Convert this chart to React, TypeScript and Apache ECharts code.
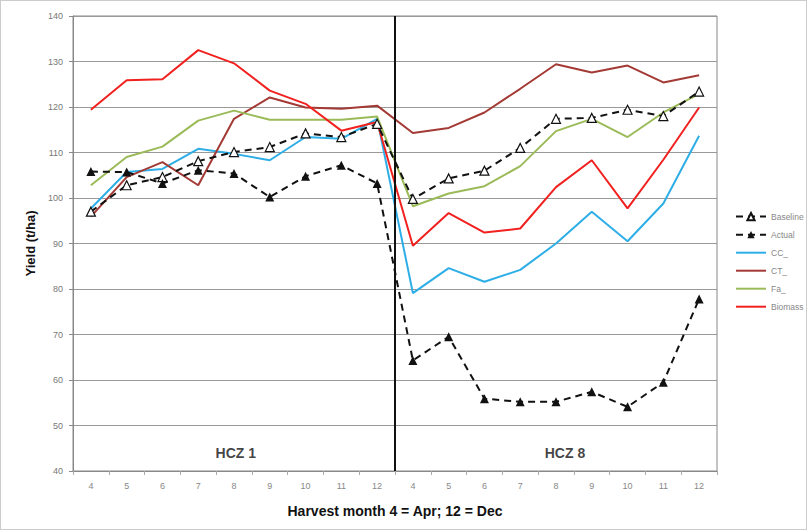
import React, { useEffect, useRef } from "react";
import * as echarts from "echarts";

const months = ["4", "5", "6", "7", "8", "9", "10", "11", "12", "4", "5", "6", "7", "8", "9", "10", "11", "12"];
const baseline = [97.0, 102.8, 104.6, 108.1, 110.1, 111.2, 114.2, 113.4, 116.3, 99.8, 104.3, 106.0, 111.0, 117.4, 117.6, 119.4, 118.0, 123.4];
const actual = [105.8, 105.7, 103.2, 106.1, 105.4, 100.2, 104.8, 107.2, 103.2, 64.3, 69.5, 55.9, 55.2, 55.2, 57.4, 54.1, 59.5, 77.8];
const cc = [97.7, 105.7, 106.4, 110.8, 109.7, 108.3, 113.4, 113.0, 117.4, 79.1, 84.6, 81.6, 84.2, 90.0, 97.0, 90.5, 98.8, 113.7];
const ct = [95.9, 104.6, 107.9, 102.8, 117.4, 122.1, 119.9, 119.6, 120.3, 114.3, 115.4, 118.8, 124.0, 129.4, 127.6, 129.1, 125.4, 127.0];
const fa = [102.8, 109.0, 111.3, 117.0, 119.2, 117.2, 117.2, 117.2, 117.9, 98.2, 101.0, 102.6, 107.0, 114.7, 117.4, 113.4, 118.8, 122.9];
const biomass = [119.4, 125.9, 126.1, 132.5, 129.6, 123.6, 120.7, 114.8, 116.7, 89.5, 96.7, 92.4, 93.3, 102.4, 108.3, 97.7, 108.4, 119.9];
const zoneLabels: [number, number, string][] = [
  [4.55, 44, "HCZ 1"],
  [13.75, 44, "HCZ 8"],
];
const zoneDivider = 9;

export default function App() {
  const ref = useRef<HTMLDivElement>(null);
  useEffect(() => {
    if (!ref.current) return;
    const chart = echarts.init(ref.current, undefined, { renderer: "svg" });
    const font = "Liberation Sans, Arial, sans-serif";
    const colored = (name: string, data: number[], color: string) => ({
      name,
      type: "line",
      data,
      symbol: "none",
      lineStyle: { color, width: 2 },
      itemStyle: { color },
      z: 2,
    });
    const lineOnly = (name: string) => ({ name, itemStyle: { opacity: 0 } });
    chart.setOption({
      animation: false,
      backgroundColor: "#fff",
      textStyle: { fontFamily: font },
      grid: { left: 72, right: 89, top: 15, bottom: 58, show: true, borderColor: "#888", borderWidth: 1 },
      legend: {
        orient: "vertical",
        left: 729,
        top: 206,
        itemWidth: 30,
        itemHeight: 9,
        itemGap: 9,
        data: ["Baseline", "Actual", lineOnly("CC_"), lineOnly("CT_"), lineOnly("Fa_"), lineOnly("Biomass")],
        textStyle: { color: "#888", fontSize: 8.5, fontFamily: font },
      },
      xAxis: [
        {
          type: "category",
          data: months,
          boundaryGap: true,
          name: "Harvest month 4 = Apr; 12 = Dec",
          nameLocation: "middle",
          nameGap: 33,
          nameTextStyle: { fontSize: 14, fontWeight: "bold", color: "#111", fontFamily: font },
          axisLine: { lineStyle: { color: "#888" } },
          axisTick: { show: true, length: 4, lineStyle: { color: "#aaa" } },
          axisLabel: { color: "#888", fontSize: 9, margin: 10 },
          splitLine: { show: false },
        },
        {
          type: "value",
          min: 0,
          max: 18,
          show: false,
          splitLine: { show: false },
        },
      ],
      yAxis: {
        type: "value",
        min: 40,
        max: 140,
        interval: 10,
        name: "Yield (t/ha)",
        nameLocation: "middle",
        nameGap: 36,
        nameRotate: 90,
        nameTextStyle: { fontSize: 13, fontWeight: "bold", color: "#111", fontFamily: font },
        axisLine: { show: true, lineStyle: { color: "#888" } },
        axisTick: { show: true, length: 4, inside: false, lineStyle: { color: "#888" } },
        axisLabel: { color: "#777", fontSize: 9, margin: 10 },
        splitLine: { show: true, lineStyle: { color: "#999", width: 1 } },
      },
      series: [
        {
          name: "Baseline",
          type: "line",
          data: baseline,
          symbol: "triangle",
          symbolSize: 9,
          lineStyle: { color: "#111", width: 2, type: [7, 5] },
          itemStyle: { color: "#fff", borderColor: "#111", borderWidth: 1.2 },
          z: 5,
        },
        {
          name: "Actual",
          type: "line",
          data: actual,
          symbol: "triangle",
          symbolSize: 9,
          lineStyle: { color: "#111", width: 2, type: [7, 5] },
          itemStyle: { color: "#111" },
          z: 5,
        },
        colored("CC_", cc, "#2eaee6"),
        colored("CT_", ct, "#a33a35"),
        colored("Fa_", fa, "#9bbb59"),
        colored("Biomass", biomass, "#f0211f"),
        {
          name: "zones",
          type: "scatter",
          xAxisIndex: 1,
          data: zoneLabels,
          symbolSize: 0,
          silent: true,
          label: {
            show: true,
            position: "inside",
            formatter: (p: any) => p.data[2],
            fontSize: 14,
            fontWeight: "bold",
            color: "#111",
            fontFamily: font,
          },
          markLine: {
            silent: true,
            symbol: "none",
            label: { show: false },
            lineStyle: { color: "#111", width: 2, type: "solid" },
            data: [{ xAxis: zoneDivider }],
          },
          z: 6,
        },
      ],
    });
    return () => chart.dispose();
  }, []);
  return (
    <div
      ref={ref}
      style={{ position: "fixed", left: 0, top: 0, width: 807, height: 530, boxSizing: "border-box", border: "1px solid #ccc" }}
    />
  );
}
